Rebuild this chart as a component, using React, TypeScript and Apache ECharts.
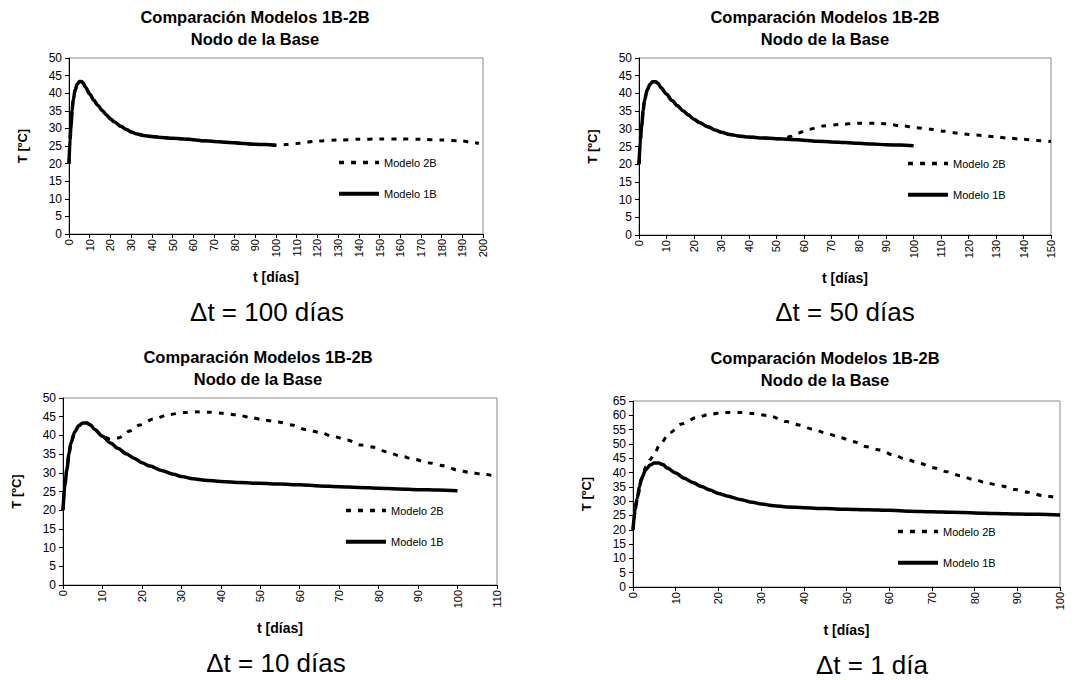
import React, { useEffect, useRef } from "react";
import * as echarts from "echarts";

// ---------- data ----------
const DAYS_1B = [0, 0.5, 1, 1.5, 2, 3, 4, 5, 6, 7, 8, 10, 12, 14, 16, 18, 20, 22, 25, 28, 30, 33, 36, 40, 45, 50, 55, 60, 65, 70, 75, 80, 85, 90, 95, 100];
const TEMP_1B = [20, 27, 31, 35, 38, 41, 42.6, 43.3, 43.3, 42.8, 41.6, 39.8, 38, 36.5, 35.1, 33.9, 32.7, 31.8, 30.6, 29.6, 29, 28.4, 28, 27.7, 27.4, 27.2, 27, 26.8, 26.5, 26.3, 26.1, 25.9, 25.7, 25.5, 25.4, 25.2];

// Modelo 2B tails after the restart point (same as 1B before it)
const DAYS_2B_100 = [105, 110, 115, 120, 130, 140, 150, 160, 170, 180, 190, 195, 198];
const TEMP_2B_100 = [25.4, 25.7, 26.1, 26.4, 26.7, 26.9, 27, 27, 26.9, 26.7, 26.4, 26, 25.7];

const DAYS_2B_50 = [53, 55, 58, 62, 67, 73, 80, 86, 90, 96, 101, 106, 111, 116, 120, 125, 130, 134, 139, 145, 150];
const TEMP_2B_50 = [27.3, 27.8, 28.8, 29.9, 30.8, 31.2, 31.6, 31.6, 31.4, 30.8, 30.3, 29.9, 29.3, 28.8, 28.4, 28.1, 27.7, 27.4, 27.1, 26.7, 26.4];

const DAYS_2B_10 = [12, 14, 17, 19.5, 23, 27, 30.5, 34, 37, 40.5, 44, 47.5, 51, 54.5, 58, 61.5, 65, 68.5, 72, 75.5, 79, 82, 85.5, 89, 92.5, 96.5, 100, 103, 106.5, 110];
const TEMP_2B_10 = [39, 39.3, 41.2, 42.8, 44.4, 45.6, 46.1, 46.3, 46.2, 45.9, 45.5, 44.8, 44.1, 43.6, 42.8, 41.6, 40.8, 39.7, 38.8, 37.4, 36.8, 35.6, 34.5, 33.6, 32.7, 31.9, 30.7, 30.1, 29.6, 29];

const DAYS_2B_1 = [0, 1, 2, 3, 4, 5, 6.3, 8.7, 11.4, 14.9, 18, 21.5, 25, 28.2, 31.7, 36, 39, 42, 45.4, 48.5, 51.6, 54.7, 57.8, 61, 64, 67.2, 70.3, 73.5, 76.6, 79.7, 83.2, 86.3, 89.5, 92.6, 96, 100];
const TEMP_2B_1 = [20, 31, 37.5, 42, 44.5, 46.5, 49.9, 54, 57, 59.2, 60.4, 61, 61, 60.6, 59.9, 57.8, 56.6, 55.2, 53.7, 52.2, 50.8, 49, 47.9, 46.1, 44.6, 43.2, 41.7, 40.3, 38.9, 37.6, 36.2, 35.3, 34.1, 33.1, 31.9, 31];

const X_MAX = [200, 150, 110, 100];
const Y_MAX = [50, 50, 50, 65];
const RESTART = [100, 50, 10, 0];
const CAPTIONS = ["\u0394t = 100 días", "\u0394t = 50 días", "\u0394t = 10 días", "\u0394t = 1 día"];
const TITLE = "Comparación Modelos 1B-2B";
const SUBTITLE = "Nodo de la Base";
const X_NAME = "t [días]";
const Y_NAME = "T [ºC]";
const NAME_1B = "Modelo 1B";
const NAME_2B = "Modelo 2B";

// ---------- layout ----------
const FONT = '"Liberation Sans", Arial, Helvetica, sans-serif';
const GRIDS = [
  { left: 69, top: 58, width: 414, height: 176 },
  { left: 639, top: 58, width: 412, height: 177 },
  { left: 63, top: 398, width: 434, height: 187 },
  { left: 633, top: 401, width: 427, height: 186 },
];
const TITLE_POS = [
  { x: 255, y: 17 },
  { x: 825, y: 17 },
  { x: 258, y: 357 },
  { x: 825, y: 358 },
];
const CAPTION_POS = [
  { x: 267, y: 312 },
  { x: 845, y: 312 },
  { x: 276, y: 663 },
  { x: 872, y: 665 },
];
const LEGEND_POS = [
  { left: 337, top: 157 },
  { left: 906, top: 158 },
  { left: 344, top: 505 },
  { left: 896, top: 526 },
];

function pairs(xs: number[], ys: number[]) {
  return xs.map((x, i) => [x, ys[i]]);
}

function build2B(i: number) {
  if (i === 0) return pairs(DAYS_1B, TEMP_1B).concat(pairs(DAYS_2B_100, TEMP_2B_100));
  if (i === 3) return pairs(DAYS_2B_1, TEMP_2B_1);
  const base = pairs(DAYS_1B, TEMP_1B).filter((p) => p[0] <= RESTART[i]);
  const tail = i === 1 ? pairs(DAYS_2B_50, TEMP_2B_50) : pairs(DAYS_2B_10, TEMP_2B_10);
  return base.concat(tail);
}

export default function App() {
  const ref = useRef<HTMLDivElement>(null);
  useEffect(() => {
    if (!ref.current) return;
    const chart = echarts.init(ref.current, null, { renderer: "svg" });
    const grid: any[] = [];
    const xAxis: any[] = [];
    const yAxis: any[] = [];
    const series: any[] = [];
    const legend: any[] = [];
    const graphic: any[] = [];
    for (let i = 0; i < 4; i++) {
      grid.push({
        ...GRIDS[i],
        show: true,
        borderColor: "#8c8c8c",
        borderWidth: 1,
        backgroundColor: "#fff",
        containLabel: false,
      });
      xAxis.push({
        type: "value",
        gridIndex: i,
        min: 0,
        max: X_MAX[i],
        interval: 10,
        name: X_NAME,
        nameLocation: "middle",
        nameGap: 36,
        nameTextStyle: { fontFamily: FONT, fontWeight: "bold", fontSize: 14, color: "#000" },
        axisLine: { show: true, onZero: false, lineStyle: { color: "#000", width: 1 } },
        axisTick: { show: true, inside: false, length: 4, lineStyle: { color: "#000" } },
        axisLabel: { rotate: 90, margin: 5, fontFamily: FONT, fontSize: 11, color: "#000", showMinLabel: true, showMaxLabel: true },
        splitLine: { show: false },
      });
      yAxis.push({
        type: "value",
        gridIndex: i,
        min: 0,
        max: Y_MAX[i],
        interval: 5,
        name: Y_NAME,
        nameLocation: "middle",
        nameRotate: 90,
        nameGap: 40,
        nameTextStyle: { fontFamily: FONT, fontWeight: "bold", fontSize: 13, color: "#000" },
        axisLine: { show: true, onZero: false, lineStyle: { color: "#000", width: 1 } },
        axisTick: { show: true, inside: false, length: 4, lineStyle: { color: "#000" } },
        axisLabel: { margin: 7, fontFamily: FONT, fontSize: 12, color: "#000" },
        splitLine: { show: false },
      });
      series.push({
        type: "line",
        name: NAME_2B,
        xAxisIndex: i,
        yAxisIndex: i,
        data: build2B(i),
        symbol: "none",
        showSymbol: false,
        smooth: 0.3,
        smoothMonotone: "x",
        z: 2,
        lineStyle: { color: "#000", width: 3, type: [5, 7] },
        itemStyle: { color: "#000" },
      });
      series.push({
        type: "line",
        name: NAME_1B,
        xAxisIndex: i,
        yAxisIndex: i,
        data: pairs(DAYS_1B, TEMP_1B),
        symbol: "none",
        showSymbol: false,
        smooth: 0.3,
        smoothMonotone: "x",
        z: 3,
        lineStyle: { color: "#000", width: 3.5, type: "solid" },
        itemStyle: { color: "#000" },
      });
      legend.push({
        ...LEGEND_POS[i],
        orient: "vertical",
        padding: 0,
        itemWidth: 40,
        itemHeight: 14,
        itemGap: 20,
        selectedMode: false,
        itemStyle: { opacity: 0, borderWidth: 0 },
        data: [
          { name: NAME_2B, lineStyle: { width: 3.5, type: [5, 7], color: "#000" } },
          { name: NAME_1B, lineStyle: { width: 4, type: "solid", color: "#000" } },
        ],
        textStyle: { fontFamily: FONT, fontSize: 11, color: "#000" },
      });
      graphic.push({
        type: "text",
        x: TITLE_POS[i].x,
        y: TITLE_POS[i].y,
        style: {
          text: TITLE,
          font: `bold 16.5px ${FONT}`,
          fill: "#000",
          textAlign: "center",
          textVerticalAlign: "middle",
        },
      });
      graphic.push({
        type: "text",
        x: TITLE_POS[i].x,
        y: TITLE_POS[i].y + 22,
        style: {
          text: SUBTITLE,
          font: `bold 16.5px ${FONT}`,
          fill: "#000",
          textAlign: "center",
          textVerticalAlign: "middle",
        },
      });
      graphic.push({
        type: "text",
        x: CAPTION_POS[i].x,
        y: CAPTION_POS[i].y,
        style: {
          text: CAPTIONS[i],
          font: `26px ${FONT}`,
          fill: "#000",
          textAlign: "center",
          textVerticalAlign: "middle",
        },
      });
    }
    chart.setOption({
      animation: false,
      backgroundColor: "#fff",
      grid,
      xAxis,
      yAxis,
      series,
      legend,
      graphic,
    });
    return () => chart.dispose();
  }, []);
  return (
    <div
      ref={ref}
      style={{ position: "absolute", left: 0, top: 0, width: 1081, height: 680 }}
    />
  );
}
